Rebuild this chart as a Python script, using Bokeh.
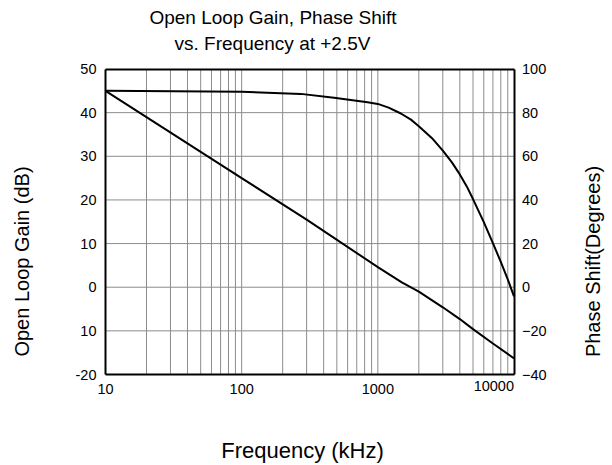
import math
from bokeh.plotting import figure
from bokeh.models import Range1d, LinearAxis, LogAxis, FixedTicker, Label
from bokeh.embed import file_html
from bokeh.resources import INLINE

# ---- data ----
title_lines = ["Open Loop Gain, Phase Shift", "vs. Frequency at +2.5V"]
x_label = "Frequency (kHz)"
gain_label = "Open Loop Gain (dB)"
phase_label = "Phase Shift(Degrees)"

gain_freq = [10, 100, 300, 1000, 1500, 2000, 3000, 4000, 5000, 7000, 10000]
gain_db = [45, 25, 15.5, 4.6, 1.1, -1.0, -4.6, -7.3, -9.6, -12.9, -16.3]

phase_freq = [10, 100, 272, 477, 840, 1000, 1200, 1476, 1750, 2000, 2500, 3000,
              3500, 4000, 4500, 5000, 6000, 7000, 8000, 9000, 10000]
phase_deg = [90, 89.6, 88.6, 86.8, 84.8, 84.0, 82.3, 79.6, 76.8, 73.8, 68.3, 62.6,
             57.2, 51.7, 46.2, 40.4, 29.8, 20.2, 11.6, 3.6, -4.2]

x_major = [10, 100, 1000, 10000]
x_major_labels = ["10", "100", "1000", "10000"]
x_minor = [20, 30, 40, 50, 60, 70, 80, 90,
           200, 300, 400, 500, 600, 700, 800, 900,
           2000, 3000, 4000, 5000, 6000, 7000, 8000, 9000]
gain_ticks = [-20, -10, 0, 10, 20, 30, 40, 50]
gain_tick_labels = ["-20", "10", "0", "10", "20", "30", "40", "50"]
phase_ticks = [-40, -20, 0, 20, 40, 60, 80, 100]

# ---- layout (pixels on the canvas) ----
W, H = 612, 465
FRAME_L, FRAME_R, FRAME_T, FRAME_B = 105.0, 513.5, 68.5, 374.0
X_MIN, X_MAX = x_major[0], x_major[-1]
Y_MIN, Y_MAX = gain_ticks[0], gain_ticks[-1]
P_MIN, P_MAX = phase_ticks[0], phase_ticks[-1]

FONT = "Liberation Sans"
ASCENT = 0.905          # font ascent, in em
GRID = "#8c8c8c"
TICK_FS = "14.5px"

# ranges extended so that the data box lands on the frame rectangle
lx0, lx1 = math.log10(X_MIN), math.log10(X_MAX)
ppd = (FRAME_R - FRAME_L) / (lx1 - lx0)
x_start = 10 ** (lx0 - FRAME_L / ppd)
x_end = 10 ** (lx1 + (W - FRAME_R) / ppd)
ppu = (FRAME_B - FRAME_T) / (Y_MAX - Y_MIN)
y_start = Y_MIN - (H - FRAME_B) / ppu
y_end = Y_MAX + FRAME_T / ppu
ppp = (FRAME_B - FRAME_T) / (P_MAX - P_MIN)
p_start = P_MIN - (H - FRAME_B) / ppp
p_end = P_MAX + FRAME_T / ppp

p = figure(width=W, height=H, x_axis_type="log",
           x_range=Range1d(x_start, x_end), y_range=Range1d(y_start, y_end),
           x_axis_location=None, y_axis_location=None,
           output_backend="svg", toolbar_location=None,
           min_border_left=0, min_border_right=0, min_border_top=0, min_border_bottom=0)
p.extra_y_ranges = {"phase": Range1d(p_start, p_end)}
p.xgrid.visible = False
p.ygrid.visible = False
p.outline_line_color = None
p.background_fill_color = "white"
p.border_fill_color = "white"

# ---- grid lines (from the tick lists) ----
vx = [t for t in x_minor + x_major if X_MIN < t < X_MAX]
p.segment(x0=vx, y0=[Y_MIN] * len(vx), x1=vx, y1=[Y_MAX] * len(vx),
          line_color=GRID, line_width=1)
hy = [t for t in gain_ticks if Y_MIN < t < Y_MAX]
p.segment(x0=[X_MIN] * len(hy), y0=hy, x1=[X_MAX] * len(hy), y1=hy,
          line_color=GRID, line_width=1)

# ---- curves ----
p.line(gain_freq, gain_db, line_color="black", line_width=2)
p.line(phase_freq, phase_deg, line_color="black", line_width=2, y_range_name="phase")

# ---- axes at the frame edges ----
xa = LogAxis(fixed_location=Y_MIN, bounds=(X_MIN, X_MAX),
             ticker=FixedTicker(ticks=x_major),
             major_label_overrides={t: (l if t != X_MAX else "") for t, l in zip(x_major, x_major_labels)},
             major_label_standoff=3)
ta = LogAxis(fixed_location=Y_MAX, bounds=(X_MIN, X_MAX),
             ticker=FixedTicker(ticks=[]), major_label_text_color=None)
ya = LinearAxis(fixed_location=X_MIN, bounds=(Y_MIN, Y_MAX),
                ticker=FixedTicker(ticks=gain_ticks),
                major_label_overrides={t: l for t, l in zip(gain_ticks, gain_tick_labels)},
                major_label_standoff=3)
ra = LinearAxis(y_range_name="phase", fixed_location=X_MAX, bounds=(P_MIN, P_MAX),
                ticker=FixedTicker(ticks=phase_ticks), major_label_standoff=2)
for ax in [xa, ta, ya, ra]:
    ax.axis_line_color = "black"
    ax.axis_line_width = 2
    ax.major_tick_line_color = None
    ax.minor_tick_line_color = None
    ax.major_label_text_font = FONT
    ax.major_label_text_font_size = TICK_FS
    if ax is not ta:
        ax.major_label_text_color = "black"
p.add_layout(xa, "below")
p.add_layout(ta, "above")
p.add_layout(ya, "left")
p.add_layout(ra, "right")


def add_text(text, px, py, size_px, align="center", angle=0.0):
    # (px, py): wanted baseline point; the text box top is placed one ascent above it
    up = ASCENT * size_px
    if angle:
        px, py = px - up, py
    else:
        py = py - up
    p.add_layout(Label(x=X_MIN, y=Y_MIN, x_offset=px - FRAME_L, y_offset=FRAME_B - py,
                       text=text, text_align=align, text_baseline="top", angle=angle,
                       text_font=FONT, text_font_size=f"{size_px}px", text_color="black"))


# last x tick label, right-aligned at the frame's right edge
add_text(x_major_labels[-1], FRAME_R, FRAME_B + 6 + ASCENT * 14.5, 14.5, align="right")

# title
add_text(title_lines[0], 272.5, 24.0, 19)
add_text(title_lines[1], 272.0, 49.3, 19)

# axis titles
add_text(gain_label, 28.3, 261.0, 20, angle=math.pi / 2)
add_text(phase_label, 599.3, 261.0, 20, angle=math.pi / 2)
add_text(x_label, 302.0, 457.3, 22)

open("out.html", "w").write(file_html(p, INLINE))
